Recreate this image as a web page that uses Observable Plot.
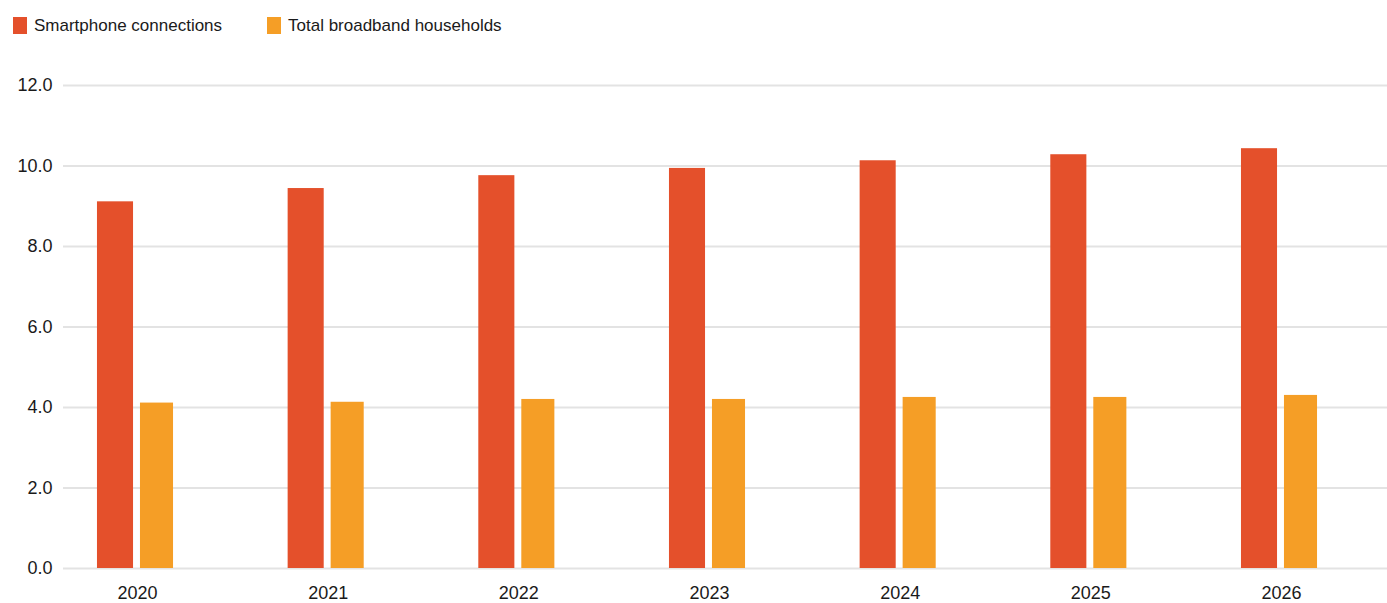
<!DOCTYPE html>
<html><head><meta charset="utf-8">
<script src="https://cdn.jsdelivr.net/npm/d3@7"></script>
<script src="https://cdn.jsdelivr.net/npm/@observablehq/plot@0.6"></script>
<style>
body{margin:0;background:#fff;font-family:"Liberation Sans",Arial,sans-serif;}
#legend{height:50px;position:relative;font-size:17px;color:#1a1a1a}
.item{position:absolute;top:17px;display:flex;align-items:center;height:17px}
.sw{width:14px;height:17px;margin-right:7px}
#chart svg{display:block}
</style></head><body>
<div id="legend"></div><div id="chart"></div>
<script>
const years = ["2020","2021","2022","2023","2024","2025","2026"];
const smartphone = [9.11, 9.44, 9.76, 9.94, 10.13, 10.28, 10.43];
const broadband = [4.11, 4.13, 4.20, 4.20, 4.25, 4.25, 4.30];
const seriesNames = ["Smartphone connections", "Total broadband households"];
const colors = ["#e4502b", "#f59e26"];
const yTicks = [0, 2, 4, 6, 8, 10, 12];

const legend = document.getElementById("legend");
const legendX = [13, 267];
seriesNames.forEach((n, i) => {
  const d = document.createElement("div");
  d.className = "item";
  d.style.left = legendX[i] + "px";
  d.innerHTML = `<span class="sw" style="background:${colors[i]}"></span><span>${n}</span>`;
  legend.appendChild(d);
});

const smartData = years.map((y, i) => ({year: y, value: smartphone[i]}));
const bbData = years.map((y, i) => ({year: y, value: broadband[i]}));

const chart = Plot.plot({
  width: 1387, height: 553,
  marginLeft: 63, marginRight: 0, marginTop: 35, marginBottom: 35,
  style: {fontFamily: '"Liberation Sans", Arial, sans-serif', fontSize: "18px", color: "#1a1a1a", background: "#fff"},
  x: {type: "band", domain: years, range: [39.67, 1374.33], padding: 0, round: false, label: null},
  y: {domain: [0, 12], label: null},
  marks: [
    Plot.ruleY(yTicks, {stroke: "#e3e3e3", strokeWidth: 2}),
    Plot.barY(smartData, {x: "year", y: "value", fill: colors[0], insetLeft: 57.3, insetRight: 97.3}),
    Plot.barY(bbData, {x: "year", y: "value", fill: colors[1], insetLeft: 100.3, insetRight: 57.3}),
    Plot.axisY(yTicks, {tickSize: 0, tickPadding: 11, tickFormat: d => d.toFixed(1), fontSize: 18, label: null}),
    Plot.axisX({tickSize: 0, tickPadding: 18, fontSize: 18, dx: 2, label: null})
  ]
});
document.getElementById("chart").appendChild(chart);
</script>
</body></html>
